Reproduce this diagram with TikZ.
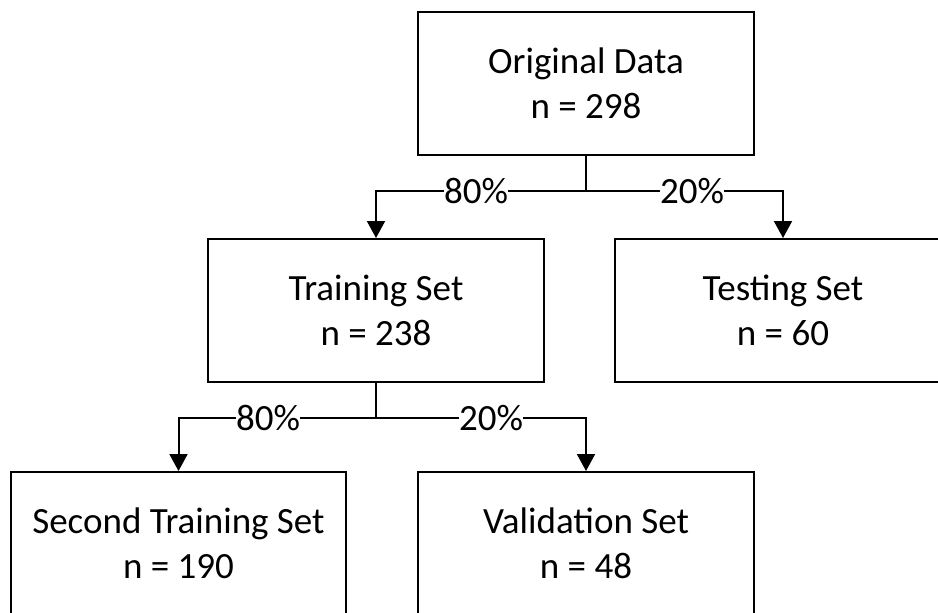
\documentclass[tikz,border=0pt]{standalone}
\usepackage{fontspec}
\setmainfont{Carlito}
\usetikzlibrary{arrows.meta}
\tikzset{
  box/.style={draw=black, line width=2pt, minimum width=336pt, minimum height=143pt,
    inner sep=0pt, align=center, font=\fontsize{37}{45}\selectfont},
  conn/.style={draw=black, line width=2pt},
  arr/.style={conn, -{Triangle[width=18pt,length=17pt]}},
  pct/.style={fill=white, inner xsep=0.5pt, inner ysep=2pt, font=\fontsize{37}{45}\selectfont}
}
\begin{document}
\begin{tikzpicture}[x=1pt,y=-1pt]
\useasboundingbox (0,0) rectangle (938,613);
\clip (0,0) rectangle (938,613);
\node[box] (orig) at (586,83) {Original Data\\n = 298};
\node[box] (train) at (376,310.5) {Training Set\\n = 238};
\node[box] (test) at (783,310.5) {Testing Set\\n = 60};
\node[box, minimum width=335pt] (second) at (178.5,543.5) {Second Training Set\\n = 190};
\node[box] (valid) at (586,543.5) {Validation Set\\n = 48};
\coordinate (s1) at (586,191);
\coordinate (s2) at (376,418);
\draw[conn] (orig.south) -- (s1);
\draw[arr] (s1) -| (train.north);
\draw[arr] (s1) -| (test.north);
\draw[conn] (train.south) -- (s2);
\draw[arr] (s2) -| (second.north);
\draw[arr] (s2) -| (valid.north);
\node[pct] (p1) at (476,191) {80\%};
\node[pct] (p2) at (692,191) {20\%};
\node[pct] (p3) at (268,418) {80\%};
\node[pct] (p4) at (491,418) {20\%};
\end{tikzpicture}
\end{document}
